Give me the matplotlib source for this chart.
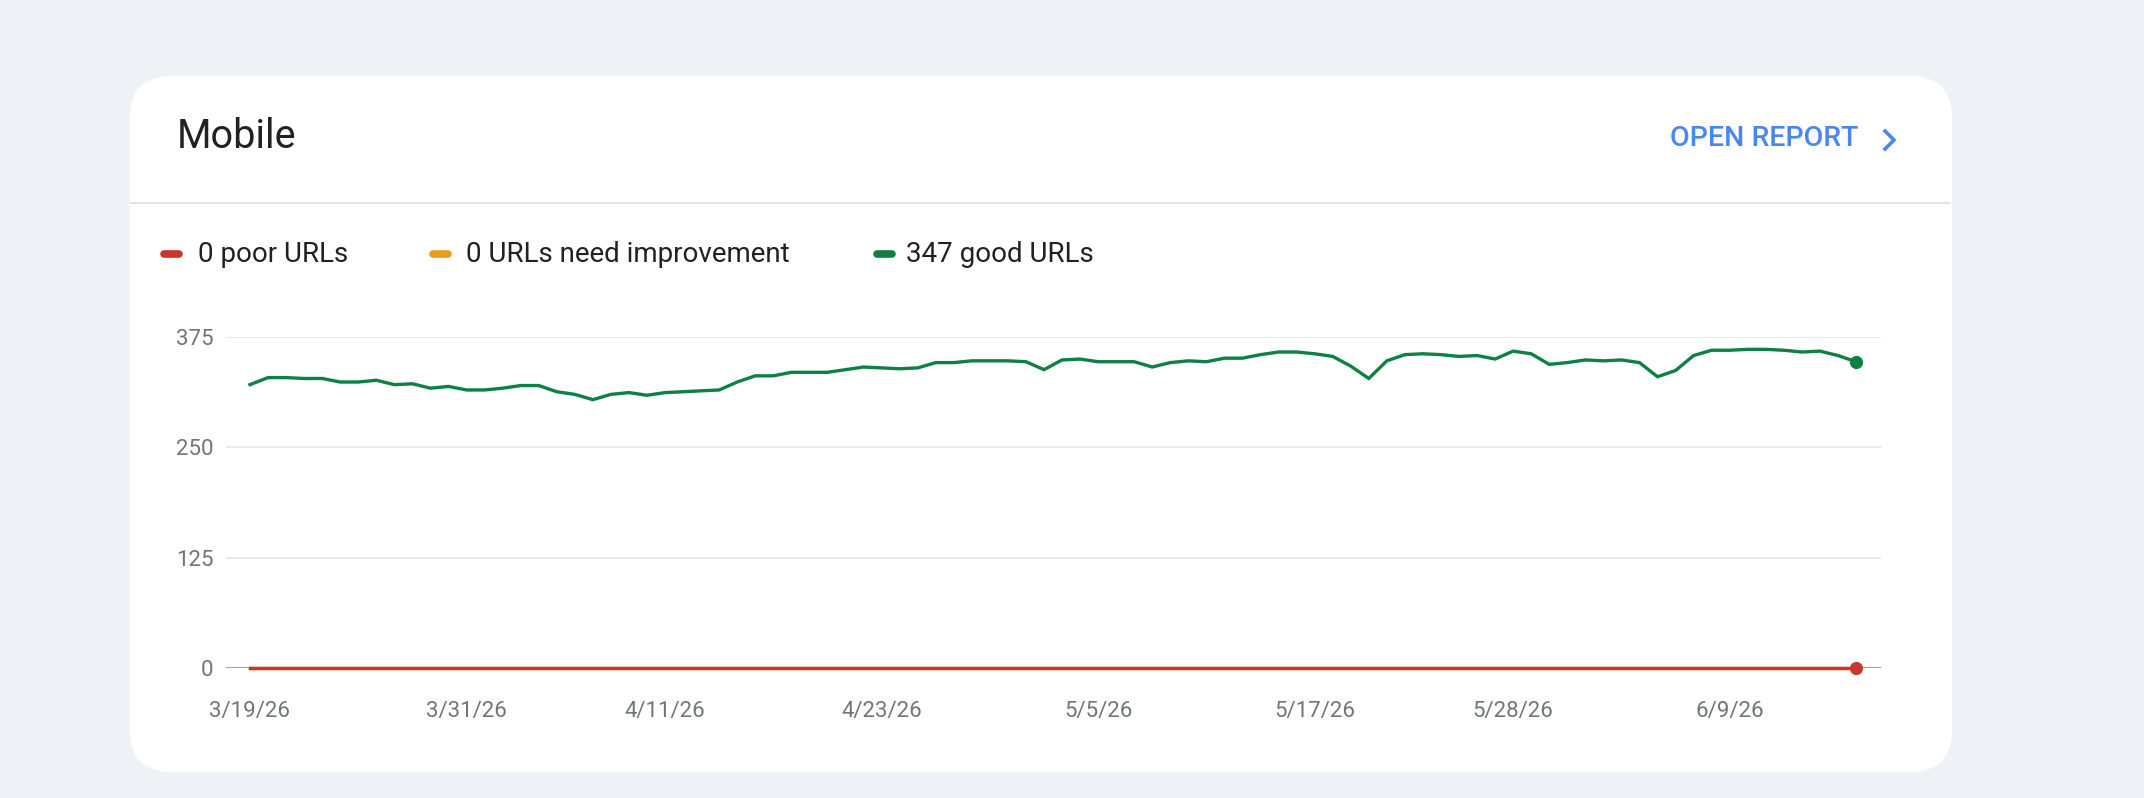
import datetime as dt
import matplotlib
matplotlib.use('Agg')
from matplotlib import pyplot as plt
from matplotlib.patches import FancyBboxPatch
from matplotlib.lines import Line2D
import matplotlib.dates as mdates

plt.rcParams['font.family'] = ['Roboto', 'DejaVu Sans']

start = dt.date(2026, 3, 19)
good_urls = [321, 329, 329, 328, 328, 324, 324, 326, 321, 322,
             317, 319, 315, 315, 317, 320, 320, 313, 310, 304,
             310, 312, 309, 312, 313, 314, 315, 324, 331, 331,
             335, 335, 335, 338, 341, 340, 339, 340, 346, 346,
             348, 348, 348, 347, 338, 349, 350, 347, 347, 347,
             341, 346, 348, 347, 351, 351, 355, 358, 358, 356,
             353, 342, 328, 348, 355, 356, 355, 353, 354, 350,
             359, 356, 344, 346, 349, 348, 349, 346, 330, 337,
             354, 360, 360, 361, 361, 360, 358, 359, 354, 347]
poor_urls = [0] * len(good_urls)
needs_improvement = [0] * len(good_urls)
dates = [start + dt.timedelta(days=i) for i in range(len(good_urls))]

tick_dates = [dt.date(2026, 3, 19), dt.date(2026, 3, 31), dt.date(2026, 4, 11),
              dt.date(2026, 4, 23), dt.date(2026, 5, 5), dt.date(2026, 5, 17),
              dt.date(2026, 5, 28), dt.date(2026, 6, 9)]
y_ticks = [0, 125, 250, 375]

legend_labels = ['0 poor URLs', '0 URLs need improvement', '347 good URLs']
RED, ORANGE, GREEN = '#c5392b', '#ee9a1d', '#0d8043'

W, H = 2144, 798


def fx(px):
    return px / W


def fy(py):
    return 1 - py / H


fig = plt.figure(figsize=(W / 100, H / 100), dpi=100)
fig.patch.set_facecolor('#eef2f7')

# card, in inches (1 in = 100 px)
card = FancyBboxPatch((1.30, (H - 772) / 100), 18.22, 6.96,
                      boxstyle='round,pad=0,rounding_size=0.42', transform=fig.dpi_scale_trans,
                      fc='white', ec='none', zorder=-10)
fig.add_artist(card)
fig.add_artist(Line2D([fx(131), fx(1950)], [fy(203), fy(203)], color='#dadce0', lw=1.2))

fig.text(fx(177), fy(137), 'Mobile', fontsize=28.5, color='#202124', va='center', ha='left')
fig.text(fx(1670), fy(139), 'OPEN REPORT', fontsize=20.5, color='#4a86f0', va='center',
         ha='left', fontweight='medium')
fig.add_artist(Line2D([fx(1885), fx(1894), fx(1885)], [fy(131), fy(140), fy(149)],
                      color='#4a86f0', lw=2.6, solid_joinstyle='miter'))

# legend
leg_x = [(164, 198), (433, 466), (877, 906)]
for (sx, tx), lab, col in zip(leg_x, legend_labels, [RED, ORANGE, GREEN]):
    fig.add_artist(Line2D([fx(sx), fx(sx + 15)], [fy(254), fy(254)], color=col, lw=5.5,
                          solid_capstyle='round'))
    fig.text(fx(tx), fy(255), lab, fontsize=20, color='#202124', va='center', ha='left')

# chart
ax = fig.add_axes([fx(226), fy(668), fx(1881) - fx(226), fy(337) - fy(668)])
ax.set_facecolor('none')
for s in ax.spines.values():
    s.set_visible(False)

x0 = mdates.date2num(dates[0])
x1 = mdates.date2num(dates[-1])
day = (x1 - x0) / (len(dates) - 1)
ax.set_xlim(x0 - 1.33 * day, x1 + 1.385 * day)
ax.set_ylim(0, 375)

for v in y_ticks[1:]:
    ax.axhline(v, color='#e6e6e6', lw=1.2, zorder=1)
ax.axhline(0, color='#9e9e9e', lw=1.5, zorder=1)

ax.plot(dates, good_urls, color=GREEN, lw=2.4, zorder=3, solid_joinstyle='miter')
ax.plot(dates, needs_improvement, color=ORANGE, lw=2.4, zorder=3, clip_on=False)
ax.plot(dates, poor_urls, color=RED, lw=2.4, zorder=4, clip_on=False)
ax.plot([dates[-1]], [good_urls[-1]], 'o', color=GREEN, ms=8.5, zorder=5, clip_on=False)
ax.plot([dates[-1]], [poor_urls[-1]], 'o', color=RED, ms=8.5, zorder=5, clip_on=False)

ax.set_yticks(y_ticks)
ax.set_yticklabels([str(v) for v in y_ticks])
ax.set_xticks(tick_dates)
ax.set_xticklabels([f'{d.month}/{d.day}/{d:%y}' for d in tick_dates])
ax.tick_params(axis='both', length=0, labelsize=16, labelcolor='#70757a')
ax.tick_params(axis='y', pad=9)
ax.tick_params(axis='x', pad=24)

fig.savefig('out.png', dpi=100)
